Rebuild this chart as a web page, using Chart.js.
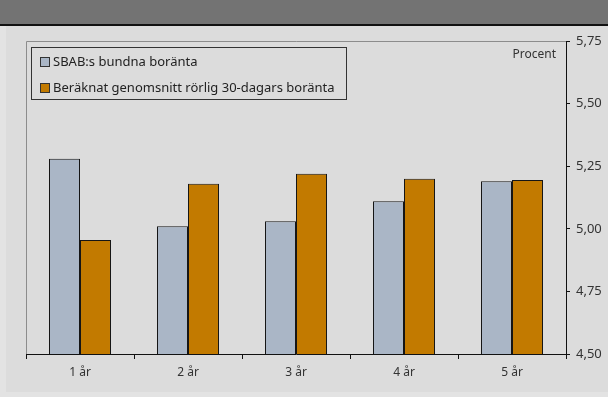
<!DOCTYPE html>
<html>
<head>
<meta charset="utf-8">
<script src="https://cdn.jsdelivr.net/npm/chart.js@4"></script>
<style>
  html, body { margin: 0; padding: 0; }
  body { width: 608px; height: 397px; background: #e3e3e3; position: relative; overflow: hidden; font-family: "Noto Sans", sans-serif; }
  #banner { position: absolute; left: 0; top: 0; width: 608px; height: 24px; background: #737373; border-bottom: 2px solid #111; }
  #panel { position: absolute; left: 6px; top: 26px; width: 602px; height: 366px; background: #dcdcdc; }
  #wrap { position: absolute; left: 0; top: 26px; width: 608px; height: 371px; }
  #legend { position: absolute; left: 31px; top: 47px; width: 314px; height: 51px; border: 1px solid #333; box-sizing: content-box; }
  #legend .item { position: absolute; left: 8px; height: 16px; line-height: 16px; font-size: 13px; color: #222; white-space: nowrap; }
  #legend .box { display: inline-block; width: 8px; height: 8px; border: 1px solid #333; margin-right: 3px; vertical-align: -1px; }
</style>
</head>
<body>
<div id="banner"></div>
<div id="panel"></div>
<div id="wrap"><canvas id="barChart"></canvas></div>
<div id="legend"></div>
<script>
// --- DATA ---
const categories = ['1 år', '2 år', '3 år', '4 år', '5 år'];
const seriesNames = ['SBAB:s bundna boränta', 'Beräknat genomsnitt rörlig 30-dagars boränta'];
const bundnaValues = [5.28, 5.01, 5.03, 5.11, 5.19];
const rorligValues = [4.955, 5.18, 5.22, 5.20, 5.195];
const yTicks = [4.50, 4.75, 5.00, 5.25, 5.50, 5.75];
const unitLabel = 'Procent';

const colors = ['#aab6c6', '#c27a00'];

// grå ram runt ritytan + "Procent"
const framePlugin = {
    id: 'frame',
    beforeDatasetsDraw(chart) {
        const { ctx, chartArea: a } = chart;
        ctx.save();
        ctx.strokeStyle = '#8c8c8c';
        ctx.lineWidth = 1;
        ctx.beginPath();
        ctx.moveTo(a.left + 0.5, a.bottom);
        ctx.lineTo(a.left + 0.5, a.top + 0.5);
        ctx.lineTo(a.right, a.top + 0.5);
        ctx.stroke();
        ctx.fillStyle = '#333';
        ctx.font = '12px "Noto Sans", sans-serif';
        ctx.textAlign = 'right';
        ctx.textBaseline = 'middle';
        ctx.fillText(unitLabel, a.right - 10, a.top + 14);
        ctx.restore();
    }
};

const canvas = document.getElementById('barChart');
const chart = new Chart(canvas.getContext('2d'), {
    type: 'bar',
    data: {
        labels: categories,
        datasets: [
            {
                label: seriesNames[0],
                data: bundnaValues,
                backgroundColor: colors[0],
                borderColor: '#151515',
                borderWidth: 1,
                borderSkipped: false,
                barPercentage: 1,
                categoryPercentage: 0.574
            },
            {
                label: seriesNames[1],
                data: rorligValues,
                backgroundColor: colors[1],
                borderColor: '#151515',
                borderWidth: 1,
                borderSkipped: false,
                barPercentage: 1,
                categoryPercentage: 0.574
            }
        ]
    },
    options: {
        responsive: true,
        maintainAspectRatio: false,
        animation: false,
        layout: { padding: { left: 26, top: 15, right: 0, bottom: 0 } },
        plugins: {
            legend: { display: false },
            tooltip: { enabled: false }
        },
        scales: {
            x: {
                grid: {
                    offset: true,
                    drawOnChartArea: false,
                    drawTicks: true,
                    tickLength: 5,
                    color: '#111'
                },
                border: { display: true, color: '#111', width: 1 },
                ticks: {
                    font: { size: 12, family: '"Noto Sans", sans-serif' },
                    color: '#333',
                    padding: 6
                },
                afterFit(scale) { scale.height = 43; }
            },
            y: {
                position: 'right',
                min: 4.5,
                max: 5.75,
                afterBuildTicks(scale) {
                    scale.ticks = yTicks.map(v => ({ value: v }));
                },
                grid: {
                    drawOnChartArea: false,
                    drawTicks: true,
                    tickLength: 4,
                    color: '#111'
                },
                border: { display: true, color: '#111', width: 1 },
                ticks: {
                    font: { size: 13, family: '"Noto Sans", sans-serif' },
                    color: '#333',
                    padding: 6,
                    callback: function (value) {
                        return Number(value).toFixed(2).replace('.', ',');
                    }
                },
                afterFit(scale) { scale.width = 42; }
            }
        }
    },
    plugins: [framePlugin]
});

// legend inuti ritytan
const legendEl = document.getElementById('legend');
chart.data.datasets.forEach(function (ds, i) {
    const item = document.createElement('div');
    item.className = 'item';
    item.style.top = (5 + i * 26) + 'px';
    item.innerHTML = '<span class="box" style="background:' + ds.backgroundColor + '"></span>' + ds.label;
    legendEl.appendChild(item);
});
</script>
</body>
</html>
